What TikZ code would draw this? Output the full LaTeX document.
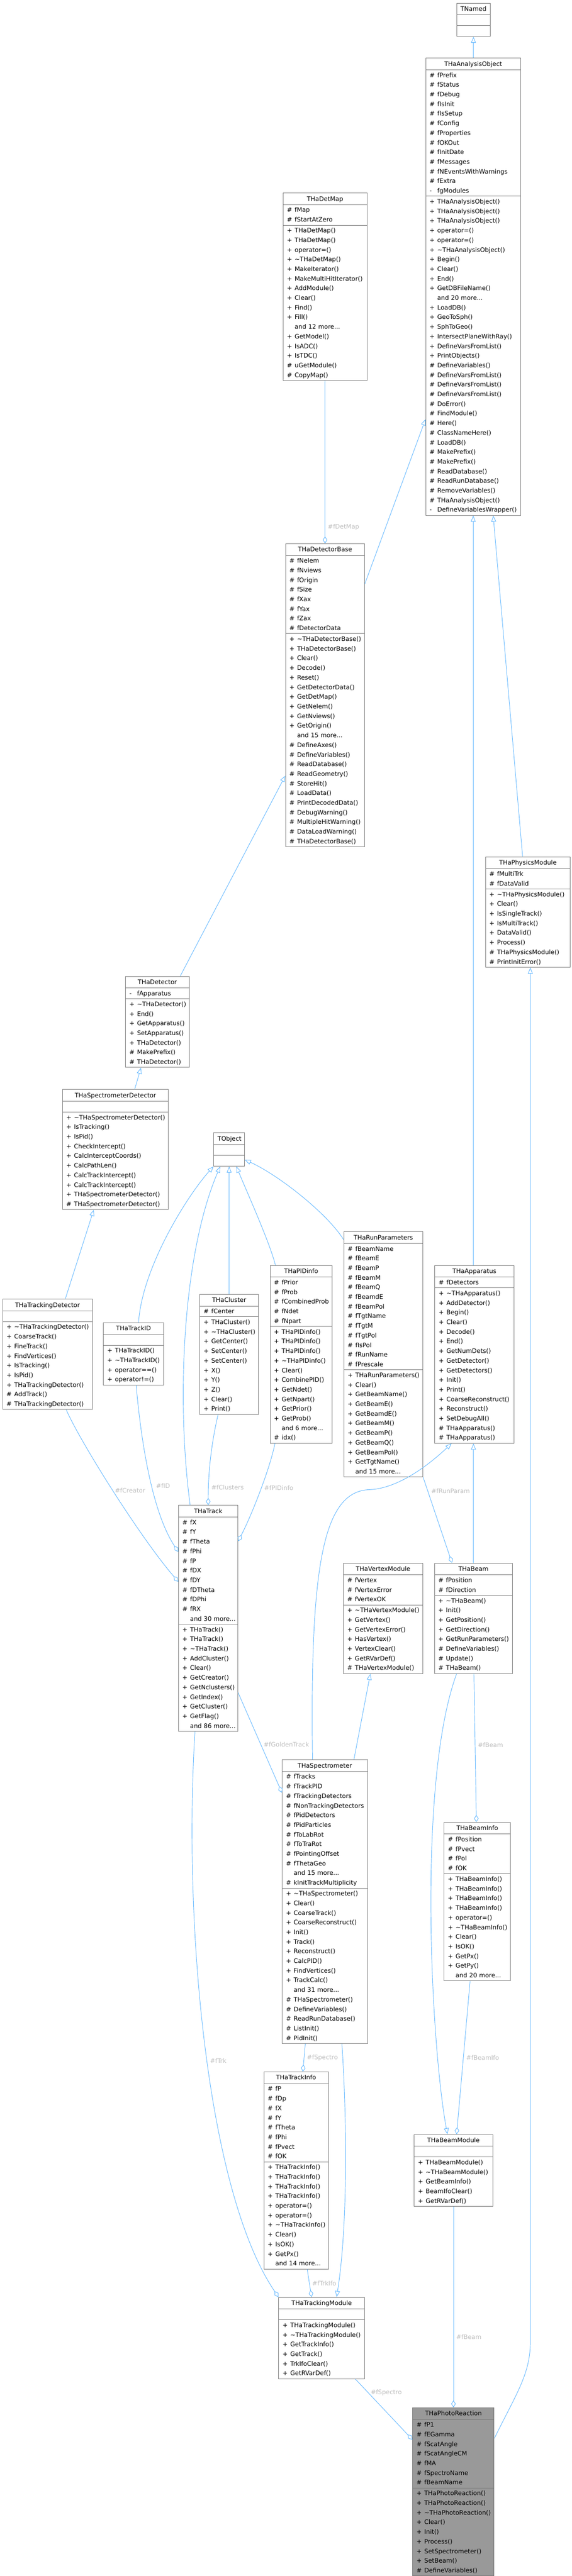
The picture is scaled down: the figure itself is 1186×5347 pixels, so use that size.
\documentclass[tikz,border=0pt]{standalone}
\usepackage{fontspec}
\setmainfont{DejaVu Sans}
\usetikzlibrary{shapes.multipart,arrows.meta,calc}
\definecolor{edgeblue}{HTML}{63B8FF}
\definecolor{boxgray}{HTML}{7A7A7A}
\definecolor{lblgray}{HTML}{BEBEBE}
\definecolor{focusgray}{HTML}{999999}
\newcommand{\clsfont}{\fontsize{9.6pt}{15pt}\selectfont}
\newcommand{\rowstrut}{\rule[-4.2pt]{0pt}{15pt}}
\newcommand{\hdrstrut}{\rule[-5pt]{0pt}{16.5pt}}
\newcommand{\mrow}[2]{\mbox{\rowstrut\makebox[12pt][l]{#1}#2}\par}
\newcommand{\mpub}[1]{\mrow{+}{#1}}
\newcommand{\mpro}[1]{\mrow{\#}{#1}}
\newcommand{\mpri}[1]{\mrow{-}{#1}}
\newcommand{\mmore}[1]{\mrow{}{and #1 more...}}
\newcommand{\mnone}{\mbox{\rowstrut}\par}
\newcommand{\mhead}[1]{{\centering\hdrstrut #1\par}}
\newcommand{\dtor}{\textasciitilde}
\begin{document}
\begin{tikzpicture}[x=0.75pt, y=-0.75pt]
    \tikzstyle{cls} = [rectangle split, rectangle split parts=3, draw=boxgray, line width=0.8pt, fill=white, inner xsep=6pt, inner ysep=0.5pt, align=left, anchor=north west, font=\clsfont]
    \tikzstyle{isa} = [draw=edgeblue, line width=0.75pt, arrows={Triangle[open, length=9.5pt, width=7.5pt]-}]
    \tikzstyle{has} = [draw=edgeblue, line width=0.75pt, arrows={Diamond[open, length=11pt, width=7pt]-}]
    \tikzstyle{lbl} = [text=lblgray, font=\clsfont, inner sep=1pt]
    \path[use as bounding box, fill=white] (0,0) rectangle (1186,5347);

    \node[cls, text width=40.5pt] (tnamed) at (947,6) {\mhead{TNamed}\nodepart{two}\mnone\nodepart{three}\mnone};
    \node[cls, text width=135.75pt] (anaobj) at (883,120) {\mhead{THaAnalysisObject}
      \nodepart{two}\mpro{fPrefix}\mpro{fStatus}\mpro{fDebug}\mpro{fIsInit}\mpro{fIsSetup}\mpro{fConfig}\mpro{fProperties}\mpro{fOKOut}\mpro{fInitDate}\mpro{fMessages}\mpro{fNEventsWithWarnings}\mpro{fExtra}\mpri{fgModules}
      \nodepart{three}\mpub{THaAnalysisObject()}\mpub{THaAnalysisObject()}\mpub{THaAnalysisObject()}\mpub{operator=()}\mpub{operator=()}\mpub{\dtor THaAnalysisObject()}\mpub{Begin()}\mpub{Clear()}\mpub{End()}\mpub{GetDBFileName()}\mmore{20}\mpub{LoadDB()}\mpub{GeoToSph()}\mpub{SphToGeo()}\mpub{IntersectPlaneWithRay()}\mpub{DefineVarsFromList()}\mpub{PrintObjects()}\mpro{DefineVariables()}\mpro{DefineVarsFromList()}\mpro{DefineVarsFromList()}\mpro{DefineVarsFromList()}\mpro{DoError()}\mpro{FindModule()}\mpro{Here()}\mpro{ClassNameHere()}\mpro{LoadDB()}\mpro{MakePrefix()}\mpro{MakePrefix()}\mpro{ReadDatabase()}\mpro{ReadRunDatabase()}\mpro{RemoveVariables()}\mpro{THaAnalysisObject()}\mpri{DefineVariablesWrapper()}};
    \node[cls, text width=118.5pt] (detmap) at (587,400) {\mhead{THaDetMap}
      \nodepart{two}\mpro{fMap}\mpro{fStartAtZero}
      \nodepart{three}\mpub{THaDetMap()}\mpub{THaDetMap()}\mpub{operator=()}\mpub{\dtor THaDetMap()}\mpub{MakeIterator()}\mpub{MakeMultiHitIterator()}\mpub{AddModule()}\mpub{Clear()}\mpub{Find()}\mpub{Fill()}\mmore{12}\mpub{GetModel()}\mpub{IsADC()}\mpub{IsTDC()}\mpro{uGetModule()}\mpro{CopyMap()}};
    \node[cls, text width=111pt] (detbase) at (592,1128) {\mhead{THaDetectorBase}
      \nodepart{two}\mpro{fNelem}\mpro{fNviews}\mpro{fOrigin}\mpro{fSize}\mpro{fXax}\mpro{fYax}\mpro{fZax}\mpro{fDetectorData}
      \nodepart{three}\mpub{\dtor THaDetectorBase()}\mpub{THaDetectorBase()}\mpub{Clear()}\mpub{Decode()}\mpub{Reset()}\mpub{GetDetectorData()}\mpub{GetDetMap()}\mpub{GetNelem()}\mpub{GetNviews()}\mpub{GetOrigin()}\mmore{15}\mpro{DefineAxes()}\mpro{DefineVariables()}\mpro{ReadDatabase()}\mpro{ReadGeometry()}\mpro{StoreHit()}\mpro{LoadData()}\mpro{PrintDecodedData()}\mpro{DebugWarning()}\mpro{MultipleHitWarning()}\mpro{DataLoadWarning()}\mpro{THaDetectorBase()}};
    \node[cls, text width=120pt] (physmod) at (1007,1778) {\mhead{THaPhysicsModule}
      \nodepart{two}\mpro{fMultiTrk}\mpro{fDataValid}
      \nodepart{three}\mpub{\dtor THaPhysicsModule()}\mpub{Clear()}\mpub{IsSingleTrack()}\mpub{IsMultiTrack()}\mpub{DataValid()}\mpub{Process()}\mpro{THaPhysicsModule()}\mpro{PrintInitError()}};
    \node[cls, text width=87pt] (detector) at (260,2026) {\mhead{THaDetector}
      \nodepart{two}\mpri{fApparatus}
      \nodepart{three}\mpub{\dtor THaDetector()}\mpub{End()}\mpub{GetApparatus()}\mpub{SetApparatus()}\mpub{THaDetector()}\mpro{MakePrefix()}\mpro{THaDetector()}};
    \node[cls, text width=153pt] (specdet) at (129,2261) {\mhead{THaSpectrometerDetector}
      \nodepart{two}\mnone
      \nodepart{three}\mpub{\dtor THaSpectrometerDetector()}\mpub{IsTracking()}\mpub{IsPid()}\mpub{CheckIntercept()}\mpub{CalcInterceptCoords()}\mpub{CalcPathLen()}\mpub{CalcTrackIntercept()}\mpub{CalcTrackIntercept()}\mpub{THaSpectrometerDetector()}\mpro{THaSpectrometerDetector()}};
    \node[cls, text width=36pt] (tobject) at (443,2351) {\mhead{TObject}\nodepart{two}\mnone\nodepart{three}\mnone};
    \node[cls, text width=111pt] (runpar) at (713,2556) {\mhead{THaRunParameters}
      \nodepart{two}\mpro{fBeamName}\mpro{fBeamE}\mpro{fBeamP}\mpro{fBeamM}\mpro{fBeamQ}\mpro{fBeamdE}\mpro{fBeamPol}\mpro{fTgtName}\mpro{fTgtM}\mpro{fTgtPol}\mpro{fIsPol}\mpro{fRunName}\mpro{fPrescale}
      \nodepart{three}\mpub{THaRunParameters()}\mpub{Clear()}\mpub{GetBeamName()}\mpub{GetBeamE()}\mpub{GetBeamdE()}\mpub{GetBeamM()}\mpub{GetBeamP()}\mpub{GetBeamQ()}\mpub{GetBeamPol()}\mpub{GetTgtName()}\mmore{15}};
    \node[cls, text width=84.75pt] (pidinfo) at (560,2626) {\mhead{THaPIDinfo}
      \nodepart{two}\mpro{fPrior}\mpro{fProb}\mpro{fCombinedProb}\mpro{fNdet}\mpro{fNpart}
      \nodepart{three}\mpub{THaPIDinfo()}\mpub{THaPIDinfo()}\mpub{THaPIDinfo()}\mpub{\dtor THaPIDinfo()}\mpub{Clear()}\mpub{CombinePID()}\mpub{GetNdet()}\mpub{GetNpart()}\mpub{GetPrior()}\mpub{GetProb()}\mmore{6}\mpro{idx()}};
    \node[cls, text width=111pt] (apparatus) at (902,2626) {\mhead{THaApparatus}
      \nodepart{two}\mpro{fDetectors}
      \nodepart{three}\mpub{\dtor THaApparatus()}\mpub{AddDetector()}\mpub{Begin()}\mpub{Clear()}\mpub{Decode()}\mpub{End()}\mpub{GetNumDets()}\mpub{GetDetector()}\mpub{GetDetectors()}\mpub{Init()}\mpub{Print()}\mpub{CoarseReconstruct()}\mpub{Reconstruct()}\mpub{SetDebugAll()}\mpro{THaApparatus()}\mpro{THaApparatus()}};
    \node[cls, text width=79.5pt] (cluster) at (414,2686) {\mhead{THaCluster}
      \nodepart{two}\mpro{fCenter}
      \nodepart{three}\mpub{THaCluster()}\mpub{\dtor THaCluster()}\mpub{GetCenter()}\mpub{SetCenter()}\mpub{SetCenter()}\mpub{X()}\mpub{Y()}\mpub{Z()}\mpub{Clear()}\mpub{Print()}};
    \node[cls, text width=127.5pt] (trkdet) at (5,2696) {\mhead{THaTrackingDetector}
      \nodepart{two}\mnone
      \nodepart{three}\mpub{\dtor THaTrackingDetector()}\mpub{CoarseTrack()}\mpub{FineTrack()}\mpub{FindVertices()}\mpub{IsTracking()}\mpub{IsPid()}\mpub{THaTrackingDetector()}\mpro{AddTrack()}\mpro{THaTrackingDetector()}};
    \node[cls, text width=81.75pt] (trackid) at (214,2745) {\mhead{THaTrackID}
      \nodepart{two}\mnone
      \nodepart{three}\mpub{THaTrackID()}\mpub{\dtor THaTrackID()}\mpub{operator==()}\mpub{operator!=()}};
    \node[cls, text width=80.25pt] (track) at (370,3124) {\mhead{THaTrack}
      \nodepart{two}\mpro{fX}\mpro{fY}\mpro{fTheta}\mpro{fPhi}\mpro{fP}\mpro{fDX}\mpro{fDY}\mpro{fDTheta}\mpro{fDPhi}\mpro{fRX}\mmore{30}
      \nodepart{three}\mpub{THaTrack()}\mpub{THaTrack()}\mpub{\dtor THaTrack()}\mpub{AddCluster()}\mpub{Clear()}\mpub{GetCreator()}\mpub{GetNclusters()}\mpub{GetIndex()}\mpub{GetCluster()}\mpub{GetFlag()}\mmore{86}};
    \node[cls, text width=111.75pt] (vtxmod) at (712,3244) {\mhead{THaVertexModule}
      \nodepart{two}\mpro{fVertex}\mpro{fVertexError}\mpro{fVertexOK}
      \nodepart{three}\mpub{\dtor THaVertexModule()}\mpub{GetVertex()}\mpub{GetVertexError()}\mpub{HasVertex()}\mpub{VertexClear()}\mpub{GetRVarDef()}\mpro{THaVertexModule()}};
    \node[cls, text width=109.5pt] (beam) at (901,3244) {\mhead{THaBeam}
      \nodepart{two}\mpro{fPosition}\mpro{fDirection}
      \nodepart{three}\mpub{\dtor THaBeam()}\mpub{Init()}\mpub{GetPosition()}\mpub{GetDirection()}\mpub{GetRunParameters()}\mpro{DefineVariables()}\mpro{Update()}\mpro{THaBeam()}};
    \node[cls, text width=120.75pt] (spectro) at (585,3652) {\mhead{THaSpectrometer}
      \nodepart{two}\mpro{fTracks}\mpro{fTrackPID}\mpro{fTrackingDetectors}\mpro{fNonTrackingDetectors}\mpro{fPidDetectors}\mpro{fPidParticles}\mpro{fToLabRot}\mpro{fToTraRot}\mpro{fPointingOffset}\mpro{fThetaGeo}\mmore{15}\mpro{kInitTrackMultiplicity}
      \nodepart{three}\mpub{\dtor THaSpectrometer()}\mpub{Clear()}\mpub{CoarseTrack()}\mpub{CoarseReconstruct()}\mpub{Init()}\mpub{Track()}\mpub{Reconstruct()}\mpub{CalcPID()}\mpub{FindVertices()}\mpub{TrackCalc()}\mmore{31}\mpro{THaSpectrometer()}\mpro{DefineVariables()}\mpro{ReadRunDatabase()}\mpro{ListInit()}\mpro{PidInit()}};
    \node[cls, text width=91.5pt] (beaminfo) at (921,3782) {\mhead{THaBeamInfo}
      \nodepart{two}\mpro{fPosition}\mpro{fPvect}\mpro{fPol}\mpro{fOK}
      \nodepart{three}\mpub{THaBeamInfo()}\mpub{THaBeamInfo()}\mpub{THaBeamInfo()}\mpub{THaBeamInfo()}\mpub{operator=()}\mpub{\dtor THaBeamInfo()}\mpub{Clear()}\mpub{IsOK()}\mpub{GetPx()}\mpub{GetPy()}\mmore{20}};
    \node[cls, text width=88.5pt] (trkinfo) at (547,4300) {\mhead{THaTrackInfo}
      \nodepart{two}\mpro{fP}\mpro{fDp}\mpro{fX}\mpro{fY}\mpro{fTheta}\mpro{fPhi}\mpro{fPvect}\mpro{fOK}
      \nodepart{three}\mpub{THaTrackInfo()}\mpub{THaTrackInfo()}\mpub{THaTrackInfo()}\mpub{THaTrackInfo()}\mpub{operator=()}\mpub{operator=()}\mpub{\dtor THaTrackInfo()}\mpub{Clear()}\mpub{IsOK()}\mpub{GetPx()}\mmore{14}};
    \node[cls, text width=110.25pt] (beammod) at (859,4430) {\mhead{THaBeamModule}
      \nodepart{two}\mnone
      \nodepart{three}\mpub{THaBeamModule()}\mpub{\dtor THaBeamModule()}\mpub{GetBeamInfo()}\mpub{BeamIfoClear()}\mpub{GetRVarDef()}};
    \node[cls, text width=121.5pt] (trkmod) at (578,4768) {\mhead{THaTrackingModule}
      \nodepart{two}\mnone
      \nodepart{three}\mpub{THaTrackingModule()}\mpub{\dtor THaTrackingModule()}\mpub{GetTrackInfo()}\mpub{GetTrack()}\mpub{TrkIfoClear()}\mpub{GetRVarDef()}};
    \node[cls, text width=114.75pt, fill=focusgray] (photo) at (856,4997) {\mhead{THaPhotoReaction}
      \nodepart{two}\mpro{fP1}\mpro{fEGamma}\mpro{fScatAngle}\mpro{fScatAngleCM}\mpro{fMA}\mpro{fSpectroName}\mpro{fBeamName}
      \nodepart{three}\mpub{THaPhotoReaction()}\mpub{THaPhotoReaction()}\mpub{\dtor THaPhotoReaction()}\mpub{Clear()}\mpub{Init()}\mpub{Process()}\mpub{SetSpectrometer()}\mpub{SetBeam()}\mpro{DefineVariables()}};

    \draw[isa] (tnamed.south) -- (tnamed.south |- anaobj.north);
    \draw[isa] ($(anaobj.south west)+(0,-200)$) -- ($(detbase.north east)+(0,84)$);
    \draw[isa] ($(anaobj.south)+(41.5,0)$) -- ($(physmod.north)+(-11,0)$);
    \draw[isa] (anaobj.south) -- (anaobj.south |- apparatus.north);
    \draw[has] (detbase.north) -- node[lbl, pos=0.1, right=3pt] {\#fDetMap} (detmap.south);
    \draw[isa] ($(detbase.south west)+(0,-148)$) -- ($(detector.north east)+(-19,0)$);
    \draw[isa] ($(detector.south)+(-34,0)$) -- ($(specdet.north)+(40,0)$);
    \draw[isa] ($(specdet.south)+(-45,0)$) -- ($(trkdet.north)+(37,0)$);
    \draw[isa] (tobject.south west) .. controls (390,2480) and (295,2630) .. ($(trackid.north)+(10.5,0)$);
    \draw[isa] ($(tobject.south west)+(14,0)$) .. controls (380,2600) and (365,2900) .. ($(track.north)+(-37.5,0)$);
    \draw[isa] (tobject.south) -- (cluster.north);
    \draw[isa] ($(tobject.south)+(15,0)$) .. controls (515,2480) and (560,2580) .. ($(pidinfo.north)+(-53.5,0)$);
    \draw[isa] ($(tobject.south east)+(0,-14)$) .. controls (580,2440) and (680,2520) .. ($(runpar.north west)+(0,17)$);
    \draw[has] ($(track.north west)+(0,159)$) .. controls (290,3190) and (165,2990) .. node[lbl, pos=0.5, right=2pt] {\#fCreator} ($(trkdet.south)+(39,0)$);
    \draw[has] ($(track.north west)+(0,97)$) .. controls (310,3130) and (290,2960) .. node[lbl, pos=0.4, right=5pt] {\#fID} ($(trackid.south)+(5.5,0)$);
    \draw[has] (track.north) .. controls (432,3050) and (440,2990) .. node[lbl, pos=0.17, right=3pt] {\#fClusters} ($(cluster.south)+(-23,0)$);
    \draw[has] ($(track.north east)+(0,75)$) .. controls (520,3150) and (560,3050) .. node[lbl, pos=0.55, right=3pt] {\#fPIDinfo} ($(pidinfo.south)+(-54.5,0)$);
    \draw[has] ($(beam.north west)+(37,0)$) -- node[lbl, pos=0.84, right=4pt] {\#fRunParam} (runpar.south east);
    \draw[isa] (apparatus.south -| beam.north) -- (beam.north);
    \draw[isa] ($(apparatus.south west)+(35,0)$) .. controls (880,3050) and (820,3090) .. (767,3092) .. controls (670,3095) and (643,3250) .. ($(spectro.north)+(-25.5,0)$);
    \draw[isa] ($(vtxmod.south)+(-26.5,0)$) -- ($(spectro.north)+(60.5,0)$);
    \draw[has] ($(spectro.north west)+(0,69)$) -- node[lbl, pos=0.48, right=3pt] {\#fGoldenTrack} ($(track.south east)+(0,-81)$);
    \draw[has] ($(beaminfo.north)+(-2,0)$) -- node[lbl, pos=0.52, right=3pt] {\#fBeam} ($(beam.south)+(1,0)$);
    \draw[isa] ($(beammod.north)+(-12.5,0)$) .. controls (895,4250) and (865,3700) .. ($(beam.south)+(-35,0)$);
    \draw[has] ($(beammod.north)+(6.5,0)$) -- node[lbl, pos=0.5, right=3pt] {\#fBeamIfo} ($(beaminfo.south)+(-15,0)$);
    \draw[has] ($(trkinfo.north)+(14,0)$) -- node[lbl, pos=0.5, right=3pt] {\#fSpectro} ($(spectro.south)+(-40.5,0)$);
    \draw[isa] ($(trkmod.north)+(31,0)$) .. controls (722,4620) and (720,4400) .. ($(spectro.south)+(35.5,0)$);
    \draw[has] (trkmod.north west) .. controls (430,4550) and (380,4000) .. node[lbl, pos=0.48, right=3pt] {\#fTrk} ($(track.south)+(-27.5,0)$);
    \draw[has] ($(trkmod.north)+(-21,0)$) -- node[lbl, pos=0.5, right=3pt] {\#fTrkIfo} ($(trkinfo.south)+(23,0)$);
    \draw[has] ($(photo.north west)+(0,67)$) -- node[lbl, pos=0.78, right=3pt] {\#fSpectro} ($(trkmod.south)+(70,0)$);
    \draw[has] (photo.north) -- node[lbl, pos=0.35, right=3pt] {\#fBeam} (beammod.south);
    \draw[isa] ($(physmod.south)+(5,0)$) -- ++(0,2855) .. controls (1100,4929) and (1070,4971) .. ($(photo.north east)+(0,64)$);
\end{tikzpicture}
\end{document}
